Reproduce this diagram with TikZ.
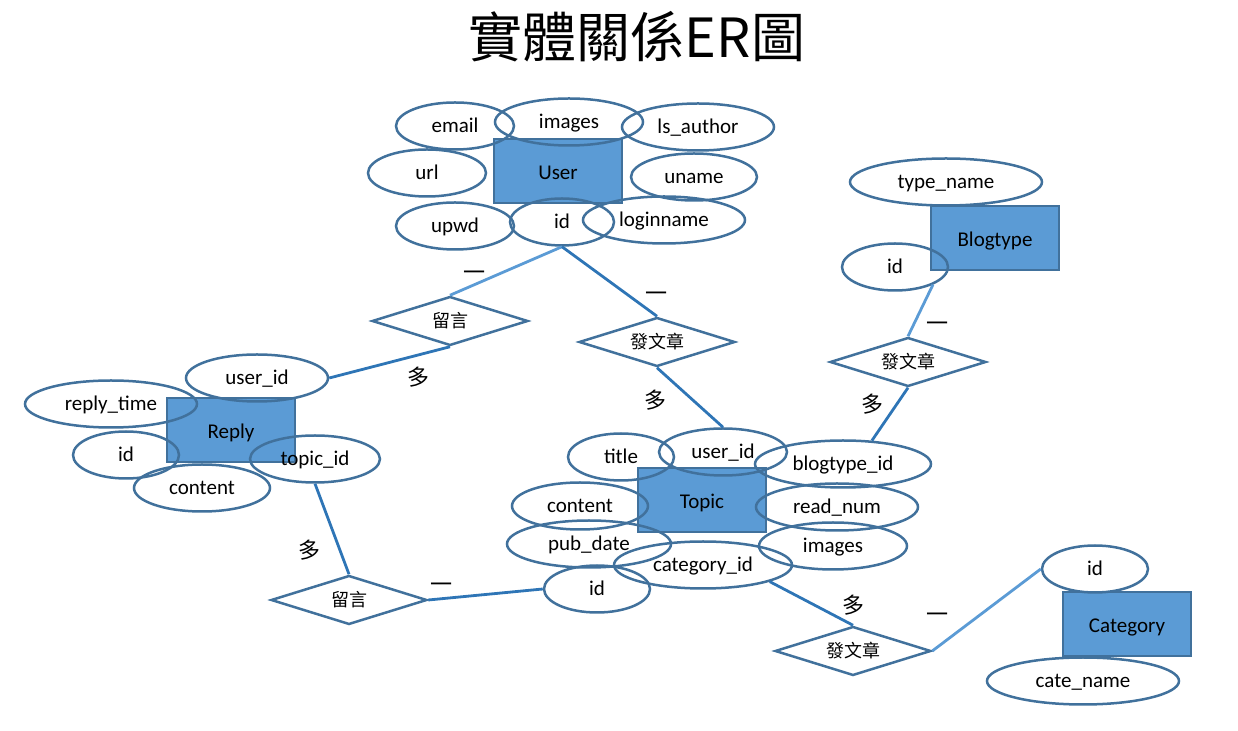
\documentclass[tikz,border=0pt]{standalone}
\usepackage{fontspec}
\setmainfont{Carlito}
\newfontfamily\cjk{Noto Sans CJK TC}
\usepackage{tikz}
\usetikzlibrary{shapes.geometric}
\definecolor{entityblue}{RGB}{91,155,213}
\definecolor{borderblue}{RGB}{65,113,156}
\definecolor{darklink}{RGB}{46,117,182}
\definecolor{lightlink}{RGB}{91,155,213}
\tikzset{
    heading/.style={
        font=\cjk\fontsize{27}{30}\selectfont,
        inner sep=0pt
    },
    entity/.style={
        draw=borderblue,
        line width=1.1pt,
        fill=entityblue,
        minimum width=64pt,
        minimum height=32pt,
        inner sep=0pt,
        text height=9pt,
        text depth=0pt,
        font=\fontsize{10.5}{12}\selectfont
    },
    attr/.style={
        ellipse,
        draw=borderblue,
        line width=1.25pt,
        minimum height=23.5pt,
        inner sep=0pt,
        text height=8pt,
        text depth=1.5pt,
        font=\fontsize{10.5}{12}\selectfont
    },
    relation/.style={
        diamond,
        draw=borderblue,
        line width=1.25pt,
        fill=white,
        aspect=3.2,
        minimum width=78pt,
        minimum height=24.5pt,
        inner sep=0pt,
        font=\cjk\fontsize{9}{10}\selectfont
    },
    strong/.style={draw=darklink, line width=1.4pt},
    soft/.style={draw=lightlink, line width=1.4pt},
    card/.style={font=\cjk\fontsize{11}{12}\selectfont, inner sep=0pt}
}

\begin{document}
\begin{tikzpicture}[x=0.5pt, y=-0.5pt]

\useasboundingbox (0,0) rectangle (1238,731);

\node[heading] (title) at (637,37) {實體關係ER圖};

% ------------------------------------------------------------
% Entities
% ------------------------------------------------------------

\node[entity] (user) at (558,171) {User};
\node[entity] (blogtype) at (995,238) {Blogtype};
\node[entity] (reply) at (231,430) {Reply};
\node[entity] (topic) at (702,500) {Topic};
\node[entity] (category) at (1127,624) {Category};

% ------------------------------------------------------------
% User attributes
% ------------------------------------------------------------

\node[attr, minimum width=59pt] (uemail) at (455,126) {email};
\node[attr, minimum width=74pt] (uimages) at (569,122) {images};
\node[attr, minimum width=76pt] (uauthor) at (698,127) {ls\_author};
\node[attr, minimum width=59pt] (uurl) at (427,173) {url};
\node[attr, minimum width=63pt] (uname) at (694,177) {uname};
\node[attr, minimum width=59pt] (upwd) at (455,226) {upwd};
\node[attr, minimum width=52pt] (uid) at (562,222) {id};
\node[attr, minimum width=81pt] (ulogin) at (664,220) {loginname};

% ------------------------------------------------------------
% Blogtype attributes
% ------------------------------------------------------------

\node[attr, minimum width=96pt] (btname) at (946,182) {type\_name};
\node[attr, minimum width=53pt] (btid) at (895,267) {id};

% ------------------------------------------------------------
% Reply attributes
% ------------------------------------------------------------

\node[attr, minimum width=71pt] (ruser) at (257,378) {user\_id};
\node[attr, minimum width=86pt] (rtime) at (111,404) {reply\_time};
\node[attr, minimum width=53pt] (rid) at (126,455) {id};
\node[attr, minimum width=68pt] (rcontent) at (202,488) {content};
\node[attr, minimum width=65pt] (rtopic) at (315,459) {topic\_id};

% ------------------------------------------------------------
% Topic attributes
% ------------------------------------------------------------

\node[attr, minimum width=53pt] (ttitle) at (621,457) {title};
\node[attr, minimum width=64pt] (tuser) at (723,452) {user\_id};
\node[attr, minimum width=88pt] (tblogtype) at (843,464) {blogtype\_id};
\node[attr, minimum width=68pt] (tcontent) at (580,506) {content};
\node[attr, minimum width=81pt] (tread) at (837,507) {read\_num};
\node[attr, minimum width=82pt] (tdate) at (589,544) {pub\_date};
\node[attr, minimum width=74pt] (timages) at (833,546) {images};
\node[attr, minimum width=89pt] (tcategory) at (703,565) {category\_id};
\node[attr, minimum width=53pt] (tid) at (597,589) {id};

% ------------------------------------------------------------
% Category attributes
% ------------------------------------------------------------

\node[attr, minimum width=53pt] (cid) at (1095,569) {id};
\node[attr, minimum width=96pt] (cname) at (1083,681) {cate\_name};

% ------------------------------------------------------------
% Relations
% ------------------------------------------------------------

\node[relation] (msgup) at (450,321) {留言};
\node[relation] (postup) at (657,342) {發文章};
\node[relation] (posttype) at (908,362) {發文章};
\node[relation] (msgdown) at (349,600) {留言};
\node[relation] (postcat) at (853,651) {發文章};

\draw[soft] (uid.south) -- (msgup.north);
\draw[strong] (uid.south) -- (postup.north);
\draw[strong] (msgup.south) -- (ruser.east);
\draw[strong] (postup.south) -- (tuser.north);
\draw[soft] (btid.-25) -- (posttype.north);
\draw[strong] (posttype.south) -- (tblogtype.39);
\draw[strong] (rtopic.south) -- (msgdown.north);
\draw[strong] (msgdown.east) -- (tid.west);
\draw[strong] (tcategory.-14) -- (postcat.north);
\draw[soft] (postcat.east) -- (cid.west);

% cardinalities
\node[card] (c1) at (474,276) {一};
\node[card] (c2) at (656,297) {一};
\node[card] (c3) at (418,377) {多};
\node[card] (c4) at (655,400) {多};
\node[card] (c5) at (937,327) {一};
\node[card] (c6) at (872,404) {多};
\node[card] (c7) at (309,550) {多};
\node[card] (c8) at (441,588) {一};
\node[card] (c9) at (853,605) {多};
\node[card] (c10) at (937,618) {一};

\end{tikzpicture}
\end{document}
